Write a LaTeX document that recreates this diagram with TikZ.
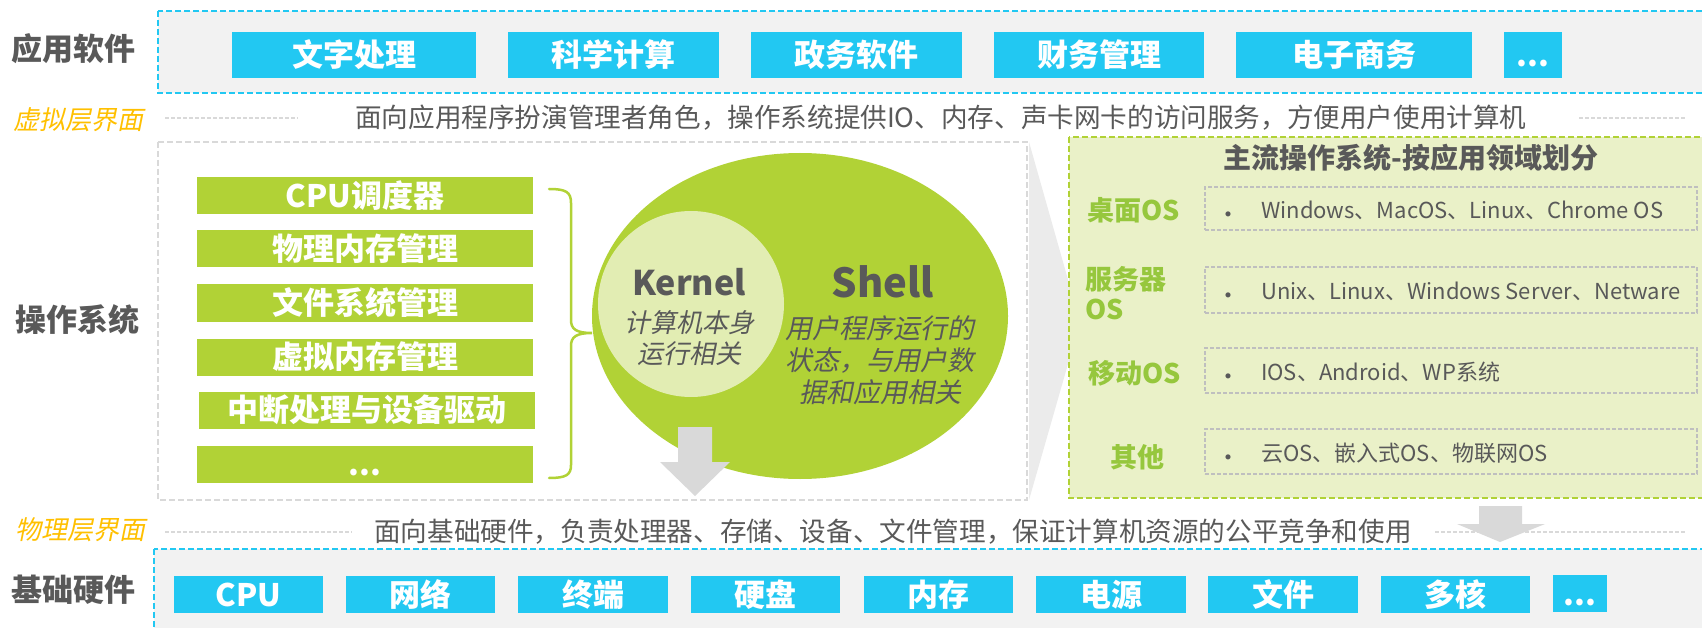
\documentclass[tikz,border=0pt]{standalone}
\usepackage{fontspec}
\usetikzlibrary{shapes.geometric}
\setmainfont{Noto Sans CJK SC}[AutoFakeSlant=0.2]
\definecolor{cblue}{HTML}{22C8F2}
\definecolor{cgreen}{HTML}{B1D236}
\definecolor{clight}{HTML}{E2EDB3}
\definecolor{cpanel}{HTML}{EAF1C8}
\definecolor{clabel}{HTML}{96C73D}
\definecolor{cdark}{HTML}{595959}
\definecolor{cyellow}{HTML}{FFC000}
\definecolor{cdash}{HTML}{D9D9D9}
\definecolor{cwedge}{HTML}{EBEBEB}
\definecolor{cbg}{HTML}{F2F2F2}
\definecolor{citem}{HTML}{BFBFBF}
\newcommand\fsz[1]{\fontsize{#1}{#1}\selectfont}
\tikzset{
  appbox/.style={fill=cblue, text=white, font=\bfseries\fsz{31}, inner sep=0pt, outer sep=0pt, minimum height=46pt},
  hwbox/.style={fill=cblue, text=white, font=\bfseries\fsz{31}, inner sep=0pt, outer sep=0pt, minimum height=37pt},
  osbar/.style={fill=cgreen, text=white, font=\bfseries\fsz{31}, inner sep=0pt, outer sep=0pt, minimum width=336pt, minimum height=37pt},
  sidelabel/.style={text=cdark, font=\bfseries\fsz{31}, inner sep=0pt},
  layerlabel/.style={text=cyellow, font=\itshape\fsz{26}, inner sep=0pt},
  desc/.style={text=cdark, font=\fsz{26.6}, inner sep=0pt, anchor=west},
  guide/.style={draw=cdash, line width=1.5pt, dash pattern=on 4pt off 2pt},
  catlabel/.style={text=clabel, font=\bfseries\fsz{27}, inner sep=0pt},
  itembox/.style={draw=citem, fill=cpanel, line width=1.2pt, dash pattern=on 4pt off 2pt, inner sep=0pt, minimum width=492pt},
  itemtext/.style={text=cdark, font=\fsz{22}, inner sep=0pt, anchor=west},
  bullet/.style={text=cdark, font=\fsz{24}, inner sep=0pt},
}
\begin{document}
\begin{tikzpicture}[x=1pt,y=-1pt]
\useasboundingbox (0,0) rectangle (1702,628);
\fill[white] (0,0) rectangle (1702,628);

% layer backgrounds
\draw[draw=cblue, fill=cbg, line width=2.5pt, dash pattern=on 6pt off 3pt] (158,11) rectangle (1712,93);
\draw[draw=cblue, fill=cbg, line width=2.5pt, dash pattern=on 6pt off 3pt] (154,549) rectangle (1712,640);
\draw[draw=cdash, fill=white, line width=1.5pt, dash pattern=on 6pt off 3pt] (158,142) rectangle (1027,500);
\fill[cwedge] (1029,142) -- (1080,322) -- (1029,500) -- cycle;
\draw[draw=cgreen, fill=cpanel, line width=2.5pt, dash pattern=on 6pt off 3pt] (1069,137) rectangle (1712,498);

% side labels
\node[sidelabel] (lapp) at (73,49) {应用软件};
\node[layerlabel] (lvirt) at (78,120) {虚拟层界面};
\node[sidelabel] (los) at (78,320) {操作系统};
\node[layerlabel] (lphys) at (80,530) {物理层界面};
\node[sidelabel] (lhw) at (73,590) {基础硬件};

% guide lines
\coordinate (g1a) at (165,118); \coordinate (g1b) at (298,118);
\coordinate (g2a) at (1579,118); \coordinate (g2b) at (1685,118);
\coordinate (g3a) at (165,532); \coordinate (g3b) at (352,532);
\coordinate (g4a) at (1435,532); \coordinate (g4b) at (1685,532);
\draw[guide] (g1a) -- (g1b);
\draw[guide] (g2a) -- (g2b);
\draw[guide] (g3a) -- (g3b);
\draw[guide] (g4a) -- (g4b);

\node[desc] (dvirt) at (355,118) {面向应用程序扮演管理者角色，操作系统提供IO、内存、声卡网卡的访问服务，方便用户使用计算机};
\node[desc] (dphys) at (374,532) {面向基础硬件，负责处理器、存储、设备、文件管理，保证计算机资源的公平竞争和使用};

% application boxes
\node[appbox, minimum width=244pt] (a1) at (354,55) {\vphantom{文}文字处理};
\node[appbox, minimum width=211pt] (a2) at (613.5,55) {\vphantom{文}科学计算};
\node[appbox, minimum width=211pt] (a3) at (856.5,55) {\vphantom{文}政务软件};
\node[appbox, minimum width=210pt] (a4) at (1099,55) {\vphantom{文}财务管理};
\node[appbox, minimum width=236pt] (a5) at (1354,55) {\vphantom{文}电子商务};
\node[appbox, minimum width=58pt] (a6) at (1533,55) {\vphantom{文}...};

% hardware boxes
\node[hwbox, minimum width=149pt] (h1) at (248.5,594.5) {\vphantom{文}CPU};
\node[hwbox, minimum width=149pt] (h2) at (420.5,594.5) {\vphantom{文}网络};
\node[hwbox, minimum width=150pt] (h3) at (593,594.5) {\vphantom{文}终端};
\node[hwbox, minimum width=149pt] (h4) at (765.5,594.5) {\vphantom{文}硬盘};
\node[hwbox, minimum width=149pt] (h5) at (938.5,594.5) {\vphantom{文}内存};
\node[hwbox, minimum width=150pt] (h6) at (1111,594.5) {\vphantom{文}电源};
\node[hwbox, minimum width=150pt] (h7) at (1283,594.5) {\vphantom{文}文件};
\node[hwbox, minimum width=149pt] (h8) at (1455.5,594.5) {\vphantom{文}多核};
\node[hwbox, minimum width=54pt] (h9) at (1580,593) {\vphantom{文}...};

% OS module bars
\node[osbar] (b1) at (365,195.5) {CPU调度器};
\node[osbar] (b2) at (365,248.5) {物理内存管理};
\node[osbar] (b3) at (365,303) {文件系统管理};
\node[osbar] (b4) at (365,357) {虚拟内存管理};
\node[osbar] (b5) at (367,410) {中断处理与设备驱动};
\node[osbar] (b6) at (365,464) {\vphantom{文}...};

% brace
\draw[cgreen, line width=2.5pt, line cap=round]
  (549,189) .. controls (566,189) and (571,192) .. (571,203) -- (571,320)
  .. controls (571,329) and (576,333) .. (592,333)
  .. controls (576,333) and (571,337) .. (571,346) -- (571,465)
  .. controls (571,475) and (566,478) .. (549,478);

% shell / kernel
\node[ellipse, fill=cgreen, minimum width=416pt, minimum height=326pt, inner sep=0pt] (shell) at (800,316) {};
\node[circle, fill=clight, minimum size=186pt, inner sep=0pt] (kernel) at (691,304) {};
\node[text=cdark, font=\bfseries\fsz{34}, inner sep=0pt] (kt) at (689,282) {Kernel};
\node[text=cdark, font=\itshape\fontsize{26}{31}\selectfont, align=center, inner sep=0pt] (kd) at (689,338) {计算机本身\\运行相关};
\node[text=cdark, font=\bfseries\fsz{40}, inner sep=0pt] (st) at (883,282) {Shell};
\node[text=cdark, font=\itshape\fontsize{27}{32}\selectfont, align=center, inner sep=0pt] (sd) at (880,360) {用户程序运行的\\状态，与用户数\\据和应用相关};

% down arrows
\fill[cdash] (678,427) -- (712,427) -- (712,462) -- (730,462) -- (695,496) -- (660,462) -- (678,462) -- cycle;
\fill[cdash] (1479,506) -- (1522,506) -- (1522,524) -- (1545,524) -- (1500,542) -- (1457,524) -- (1479,524) -- cycle;

% right panel
\node[text=cdark, font=\bfseries\fsz{28}, inner sep=0pt] (ptitle) at (1411,158) {主流操作系统-按应用领域划分};
\node[catlabel] (c1) at (1134,210) {桌面OS};
\node[catlabel, align=left, font=\bfseries\fontsize{27}{30}\selectfont, anchor=west] (c2) at (1085,293) {服务器\\OS};
\node[catlabel] (c3) at (1135,373) {移动OS};
\node[catlabel] (c4) at (1137,457) {其他};

\node[itembox, minimum height=43pt] (i1) at (1451,208.5) {};
\node[itembox, minimum height=46pt] (i2) at (1451,290) {};
\node[itembox, minimum height=45pt] (i3) at (1451,370.5) {};
\node[itembox, minimum height=45pt] (i4) at (1451,451.5) {};

\node[bullet] (u1) at (1228,218) {•};
\node[bullet] (u2) at (1228,299) {•};
\node[bullet] (u3) at (1228,380) {•};
\node[bullet] (u4) at (1228,461) {•};
\node[itemtext] (t1) at (1261,210) {Windows、MacOS、Linux、Chrome OS};
\node[itemtext] (t2) at (1261,291) {Unix、Linux、Windows Server、Netware};
\node[itemtext] (t3) at (1261,372) {IOS、Android、WP系统};
\node[itemtext] (t4) at (1261,453) {云OS、嵌入式OS、物联网OS};
\end{tikzpicture}
\end{document}
